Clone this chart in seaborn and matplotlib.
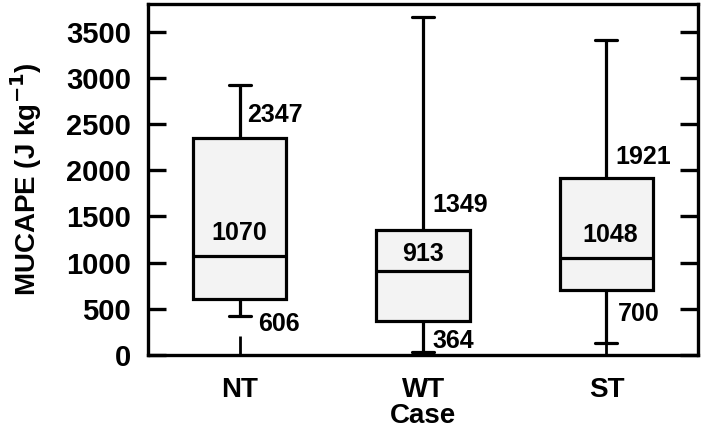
import numpy as np
import pandas as pd
import matplotlib
matplotlib.use("Agg")
import matplotlib.pyplot as plt
import seaborn as sns

# ----------------------------------------------------------
# data
# ----------------------------------------------------------
cases = ["NT", "WT", "ST"]
mins = [420, 30, 130]
q1s = [606, 364, 700]
medians = [1070, 913, 1048]
q3s = [2347, 1349, 1921]
maxs = [2920, 3660, 3410]

# five points per case -> quartiles land exactly on q1/median/q3
rows = []
for i, c in enumerate(cases):
    for v in (mins[i], q1s[i], medians[i], q3s[i], maxs[i]):
        rows.append({"Case": c, "MUCAPE": v})
df = pd.DataFrame(rows)

# ----------------------------------------------------------
# style
# ----------------------------------------------------------
sns.set_style("ticks")
plt.rcParams["font.family"] = ["Liberation Sans", "DejaVu Sans"]
plt.rcParams["font.weight"] = "bold"
plt.rcParams["axes.labelweight"] = "bold"
plt.rcParams["mathtext.default"] = "bf"
for k in ("text.color", "axes.labelcolor", "xtick.color", "ytick.color"):
    plt.rcParams[k] = "black"

fig = plt.figure(figsize=(7.01, 4.44), dpi=100)
ax = fig.add_axes([0.211, 0.2005, 0.785, 0.7905])

lw = 2.3
sns.boxplot(data=df, x="Case", y="MUCAPE", order=cases, whis=(0, 100),
            width=0.51, color="#f3f3f3", linecolor="black", linewidth=lw,
            capwidths=0.12, showfliers=False, ax=ax)

# ----------------------------------------------------------
# annotations: (x, y, ha) per case for q3, median, q1
# ----------------------------------------------------------
q3_pos = [(0.04, 2600, "left"), (1.05, 1620, "left"), (2.05, 2141, "left")]
med_pos = [(0.0, 1326, "center"), (1.0, 1098, "center"), (2.02, 1304, "center")]
q1_pos = [(0.10, 337, "left"), (1.05, 152, "left"), (2.06, 446, "left")]
for vals, pos in ((q3s, q3_pos), (medians, med_pos), (q1s, q1_pos)):
    for v, (x, y, ha) in zip(vals, pos):
        ax.text(x, y, str(v), ha=ha, va="center", fontsize=18,
                fontweight="bold", color="black")

ax.set_xlim(-0.5, 2.5)
ax.set_ylim(0, 3800)
ax.set_yticks(np.arange(0, 3501, 500))
ax.set_ylabel("MUCAPE (J kg$^{-1}$)", fontsize=20, labelpad=16)
ax.set_xlabel("Case", fontsize=20, labelpad=0)

for s in ax.spines.values():
    s.set_visible(True)
    s.set_linewidth(2.4)
    s.set_color("black")

ax.tick_params(axis="y", direction="in", length=13, width=2.4, right=True,
               labelsize=21, pad=12)
ax.tick_params(axis="x", direction="in", length=14, width=2.0,
               labelsize=20, pad=16)
for lab in ax.get_xticklabels() + ax.get_yticklabels():
    lab.set_fontweight("bold")

plt.savefig("out.png", dpi=100)
